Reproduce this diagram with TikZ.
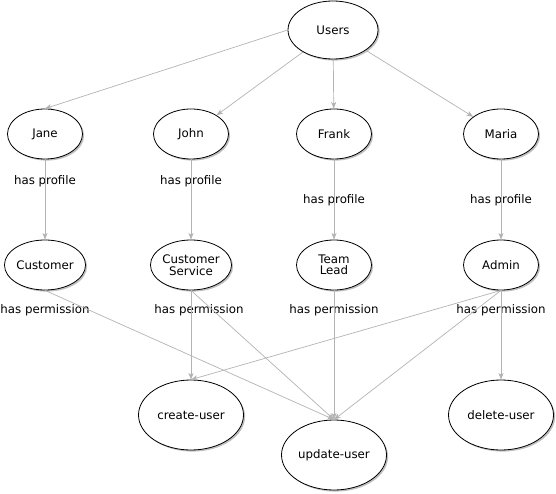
\documentclass[tikz,border=0pt]{standalone}
\usepackage{fontspec}
\setmainfont{DejaVu Sans}
\usepackage{tikz}
\usetikzlibrary{arrows, arrows.meta, shapes.geometric, shadows}
\tikzset{>={Stealth[length=6.5pt, width=5pt, inset=1.5pt]}}
\definecolor{linegray}{RGB}{179,179,179}
\tikzset{
  oval/.style={ellipse, draw=black, line width=0.8pt, fill=white, align=center,
    inner sep=0pt, minimum width=75pt, minimum height=50pt,
    drop shadow={shadow xshift=1.6pt, shadow yshift=-1.6pt, fill=black, opacity=0.25}},
  bigoval/.style={oval, minimum width=90pt, minimum height=58pt},
  permoval/.style={oval, minimum width=105pt, minimum height=70pt},
  lbl/.style={inner sep=0pt},
  link/.style={->, draw=linegray, line width=0.7pt}
}

\begin{document}
\begin{tikzpicture}[x=1pt, y=-1pt, font=\fontsize{11.8}{13.5}\selectfont]
    \useasboundingbox (0,0) rectangle (556,494);

    % users
    \node[bigoval]	(Users)	at	(333,30)	{Users};
    \node[oval]	(Jane)	at	(45,134)	{Jane};
    \node[oval]	(John)	at	(191,134)	{John};
    \node[oval]	(Frank)	at	(334,134)	{Frank};
    \node[oval]	(Maria)	at	(501,134)	{Maria};

    % profiles
    \node[oval]	(Customer)	at	(45,265)	{Customer};
    \node[oval]	(CustService)	at	(191,265)	{Customer\\[-2pt]Service};
    \node[oval]	(TeamLead)	at	(334,265)	{Team\\[-2pt]Lead};
    \node[oval]	(Admin)	at	(501,265)	{Admin};

    % permissions
    \node[permoval]	(CreateUser)	at	(191,415)	{create-user};
    \node[permoval]	(UpdateUser)	at	(334,455)	{update-user};
    \node[permoval]	(DeleteUser)	at	(501,415)	{delete-user};

    % labels
    \node[lbl]	(hpJane)	at	(45,181)	{has profile};
    \node[lbl]	(hpJohn)	at	(191,181)	{has profile};
    \node[lbl]	(hpFrank)	at	(334,200)	{has profile};
    \node[lbl]	(hpMaria)	at	(501,200)	{has profile};
    \node[lbl]	(hpCustomer)	at	(45,310)	{has permission};
    \node[lbl]	(hpCustService)	at	(199,310)	{has permission};
    \node[lbl]	(hpTeamLead)	at	(334,310)	{has permission};
    \node[lbl]	(hpAdmin)	at	(501,310)	{has permission};

    \draw[link] (Users.west) -- (Jane.north);
    \draw[link] (Users) -- (John);
    \draw[link] (Users) -- (Frank);
    \draw[link] (Users) -- (Maria);

    \draw[link] (Jane) -- (Customer);
    \draw[link] (John) -- (CustService);
    \draw[link] (Frank) -- (TeamLead);
    \draw[link] (Maria) -- (Admin);

    \draw[link] (Customer.south) -- (UpdateUser.north);
    \draw[link] (CustService.south) -- (CreateUser.north);
    \draw[link] (CustService.south) -- (UpdateUser.north);
    \draw[link] (TeamLead.south) -- (UpdateUser.north);
    \draw[link] (Admin.south) -- (CreateUser.north);
    \draw[link] (Admin.south) -- (UpdateUser.north);
    \draw[link] (Admin.south) -- (DeleteUser.north);
\end{tikzpicture}
\end{document}
